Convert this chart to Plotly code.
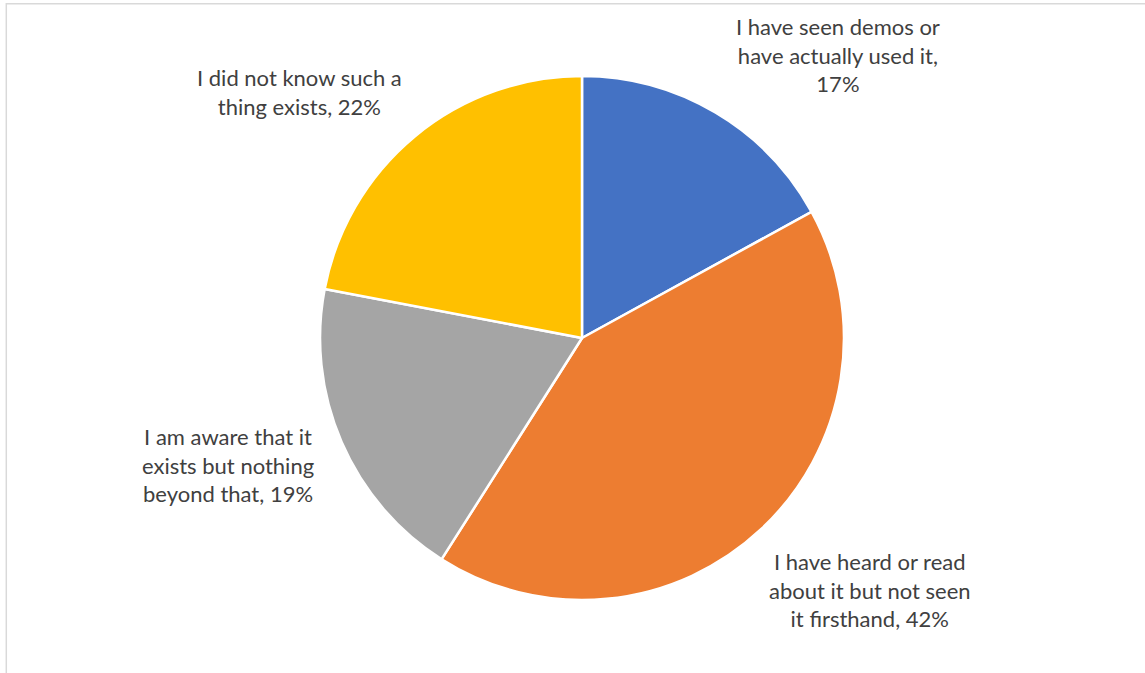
import plotly.graph_objects as go

# Survey responses: familiarity with the technology
categories = [
    "I have seen demos or<br>have actually used it,",
    "I have heard or read<br>about it but not seen<br>it firsthand,",
    "I am aware that it<br>exists but nothing<br>beyond that,",
    "I did not know such a<br>thing exists,",
]
shares = [17, 42, 19, 22]
colors = ["#4472C4", "#ED7D31", "#A5A5A5", "#FFC000"]

# Separator between category text and value in each callout
separators = ["<br>", " ", " ", " "]
# Label anchor positions (paper coordinates) for each slice's callout text
label_pos = [(0.732, 0.984), (0.760, 0.189), (0.199, 0.374), (0.262, 0.908)]

FONT = "Lato, Carlito, Calibri, sans-serif"

fig = go.Figure(
    go.Pie(
        labels=categories,
        values=shares,
        sort=False,
        direction="clockwise",
        rotation=0,
        marker=dict(colors=colors, line=dict(color="white", width=2.5)),
        textinfo="none",
        hoverinfo="label+percent",
        domain=dict(x=[0.2795, 0.7371], y=[0.1085, 0.887]),
        showlegend=False,
    )
)

annotations = []
for cat, sep, val, (x, y) in zip(categories, separators, shares, label_pos):
    annotations.append(
        dict(
            text=f"{cat}{sep}{val}%",
            x=x,
            y=y,
            xref="paper",
            yref="paper",
            xanchor="center",
            yanchor="top",
            showarrow=False,
            align="center",
            font=dict(family=FONT, size=22, color="#404040"),
        )
    )

fig.update_layout(
    width=1145,
    height=673,
    margin=dict(l=0, r=0, t=0, b=0),
    paper_bgcolor="white",
    plot_bgcolor="white",
    annotations=annotations,
    shapes=[
        dict(
            type="rect",
            xref="paper",
            yref="paper",
            x0=0.0055,
            x1=1.01,
            y0=-0.01,
            y1=0.9945,
            line=dict(color="#D9D9D9", width=1.5),
            fillcolor="rgba(0,0,0,0)",
            layer="below",
        )
    ],
)

fig.write_html("out.html")
